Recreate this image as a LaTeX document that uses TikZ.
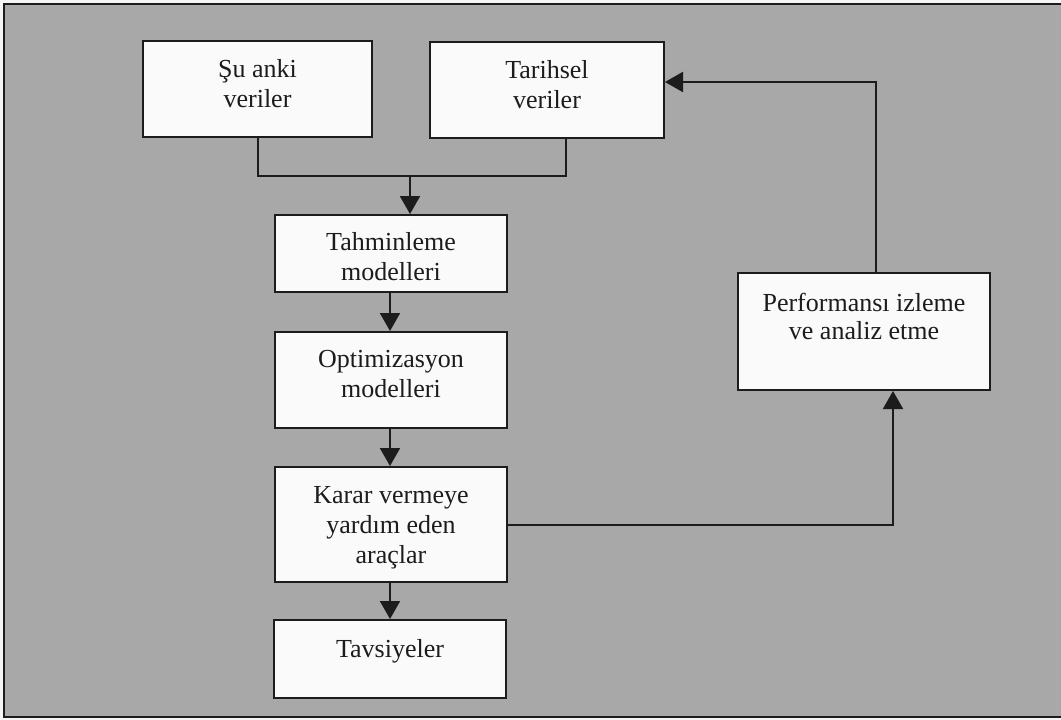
\documentclass[tikz,border=0pt]{standalone}
\usepackage{fontspec}
\setmainfont{Liberation Serif}
\usetikzlibrary{arrows.meta}

\definecolor{paper}{RGB}{168,168,168}
\definecolor{boxfill}{RGB}{250,250,250}
\definecolor{ink}{RGB}{28,28,28}

\tikzset{
  box/.style={draw=ink, fill=boxfill, line width=2pt, inner sep=0pt, rectangle},
  lbl/.style={anchor=north, align=center, inner sep=0pt, text=ink,
              font=\fontsize{26}{30}\selectfont},
  conn/.style={draw=ink, line width=2pt},
  arr/.style={conn, -{Triangle[width=20pt,length=18pt]}},
}

\begin{document}
\begin{tikzpicture}[x=1pt, y=-1pt]
  % page and framed panel
  \useasboundingbox (0,0) rectangle (1061,720);
  \fill[white!88!paper] (0,0) rectangle (1061,720);
  \fill[paper] (4,4) rectangle (1061,717);
  \draw[ink, line width=2.2pt] (1061,4) -- (4,4) -- (4,717) -- (1061,717);

  % boxes (centre, width, height)
  \node[box, minimum width=229pt, minimum height=96pt]  (A) at (257.5,89) {};
  \node[box, minimum width=234pt, minimum height=96pt]  (B) at (547,90) {};
  \node[box, minimum width=232pt, minimum height=77pt]  (C) at (391,253.5) {};
  \node[box, minimum width=232pt, minimum height=96pt]  (D) at (391,380) {};
  \node[box, minimum width=232pt, minimum height=115pt] (E) at (391,524.5) {};
  \node[box, minimum width=232pt, minimum height=78pt]  (F) at (390,659) {};
  \node[box, minimum width=252pt, minimum height=117pt] (G) at (864,331.5) {};

  % box texts, first baseline about 36pt below the top edge
  \node[lbl] (tA) at (257.5,56) {\strut Şu anki\\\strut veriler};
  \node[lbl] (tB) at (547,57)   {\strut Tarihsel\\\strut veriler};
  \node[lbl] (tC) at (391,229)  {\strut Tahminleme\\\strut modelleri};
  \node[lbl] (tD) at (391,346)  {\strut Optimizasyon\\\strut modelleri};
  \node[lbl] (tE) at (391,482)  {\strut Karar vermeye\\\strut yardım eden\\\strut araçlar};
  \node[lbl] (tF) at (390,636)  {\strut Tavsiyeler};
  \node[lbl, font=\fontsize{26}{28}\selectfont] (tG) at (864,292) {\strut Performansı izleme\\\strut ve analiz etme};

  % routing points
  \coordinate (jB)   at (566,176);
  \coordinate (j)    at (410,176);
  \coordinate (col)  at (390,0);
  \coordinate (up)   at (893,0);
  \coordinate (back) at (876,82);

  % inputs merge into the forecasting models
  \draw[conn] (A.south) |- (jB) -- (jB |- B.south);
  \draw[arr] (j) -- (j |- C.north);

  % main chain
  \draw[arr] (col |- C.south) -- (col |- D.north);
  \draw[arr] (col |- D.south) -- (col |- E.north);
  \draw[arr] (col |- E.south) -- (col |- F.north);

  % feedback loop
  \draw[arr] (E.east) -| (up |- G.south);
  \draw[arr] (back |- G.north) -- (back) -- (back -| B.east);
\end{tikzpicture}
\end{document}
